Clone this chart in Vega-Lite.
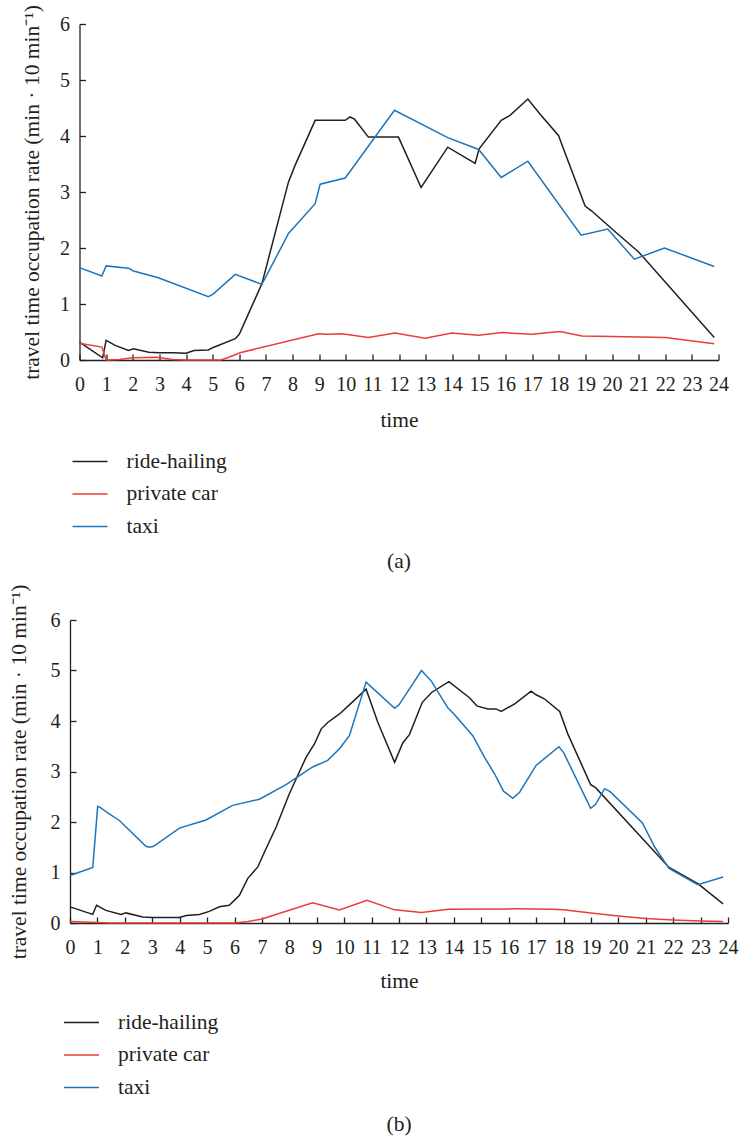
{
  "$schema": "https://vega.github.io/schema/vega-lite/v6.json",
  "background": "white",
  "padding": {"left": 8, "top": 4, "right": 2, "bottom": 0},
  "spacing": 11,
  "center": true,
  "resolve": {"scale": {"color": "independent"}, "legend": {"color": "independent"}},
  "config": {
    "font": "Liberation Serif",
    "view": {"stroke": null},
    "axis": {
      "grid": false,
      "domainColor": "#231f20",
      "domainWidth": 1.3,
      "tickColor": "#231f20",
      "tickWidth": 1.3,
      "tickSize": -6,
      "labelColor": "#231f20",
      "labelFont": "Liberation Serif",
      "labelFontSize": 20,
      "labelOverlap": false,
      "labelFlush": false,
      "labelBound": false,
      "titleColor": "#231f20",
      "titleFont": "Liberation Serif",
      "titleFontSize": 21.5,
      "titleFontWeight": "normal"
    },
    "legend": {
      "orient": "none",
      "direction": "vertical",
      "symbolType": "stroke",
      "symbolSize": 1225,
      "symbolStrokeWidth": 1.5,
      "labelFont": "Liberation Serif",
      "labelFontSize": 21.5,
      "labelColor": "#231f20",
      "labelOffset": 18,
      "rowPadding": 3.5,
      "title": null
    },
    "title": {
      "font": "Liberation Serif",
      "fontSize": 21.5,
      "fontWeight": "normal",
      "color": "#231f20",
      "orient": "bottom",
      "anchor": "middle"
    }
  },
  "vconcat": [
    {
      "width": 639,
      "height": 336,
      "title": {"text": "(a)", "offset": 14},
      "data": {
        "values": [
          {"t": 0, "v": 0.32, "s": "ride-hailing"},
          {"t": 0.87, "v": 0.04, "s": "ride-hailing"},
          {"t": 1.0, "v": 0.35, "s": "ride-hailing"},
          {"t": 1.34, "v": 0.26, "s": "ride-hailing"},
          {"t": 1.84, "v": 0.17, "s": "ride-hailing"},
          {"t": 2.03, "v": 0.2, "s": "ride-hailing"},
          {"t": 2.6, "v": 0.14, "s": "ride-hailing"},
          {"t": 3.0, "v": 0.13, "s": "ride-hailing"},
          {"t": 3.5, "v": 0.13, "s": "ride-hailing"},
          {"t": 4.0, "v": 0.12, "s": "ride-hailing"},
          {"t": 4.3, "v": 0.17, "s": "ride-hailing"},
          {"t": 4.84, "v": 0.18, "s": "ride-hailing"},
          {"t": 5.0, "v": 0.22, "s": "ride-hailing"},
          {"t": 5.85, "v": 0.38, "s": "ride-hailing"},
          {"t": 6.0, "v": 0.46, "s": "ride-hailing"},
          {"t": 6.85, "v": 1.36, "s": "ride-hailing"},
          {"t": 7.85, "v": 3.18, "s": "ride-hailing"},
          {"t": 8.1, "v": 3.48, "s": "ride-hailing"},
          {"t": 8.85, "v": 4.28, "s": "ride-hailing"},
          {"t": 9.98, "v": 4.28, "s": "ride-hailing"},
          {"t": 10.16, "v": 4.34, "s": "ride-hailing"},
          {"t": 10.33, "v": 4.3, "s": "ride-hailing"},
          {"t": 10.85, "v": 3.98, "s": "ride-hailing"},
          {"t": 11.98, "v": 3.98, "s": "ride-hailing"},
          {"t": 12.83, "v": 3.08, "s": "ride-hailing"},
          {"t": 13.83, "v": 3.8, "s": "ride-hailing"},
          {"t": 14.86, "v": 3.51, "s": "ride-hailing"},
          {"t": 15.01, "v": 3.77, "s": "ride-hailing"},
          {"t": 15.84, "v": 4.28, "s": "ride-hailing"},
          {"t": 16.17, "v": 4.37, "s": "ride-hailing"},
          {"t": 16.84, "v": 4.66, "s": "ride-hailing"},
          {"t": 17.3, "v": 4.39, "s": "ride-hailing"},
          {"t": 17.99, "v": 4.01, "s": "ride-hailing"},
          {"t": 18.24, "v": 3.69, "s": "ride-hailing"},
          {"t": 18.99, "v": 2.75, "s": "ride-hailing"},
          {"t": 19.24, "v": 2.66, "s": "ride-hailing"},
          {"t": 20.12, "v": 2.29, "s": "ride-hailing"},
          {"t": 21.0, "v": 1.93, "s": "ride-hailing"},
          {"t": 23.84, "v": 0.4, "s": "ride-hailing"},

          {"t": 0, "v": 0.3, "s": "private car"},
          {"t": 0.84, "v": 0.23, "s": "private car"},
          {"t": 1.0, "v": 0.0, "s": "private car"},
          {"t": 1.5, "v": 0.01, "s": "private car"},
          {"t": 2.0, "v": 0.04, "s": "private car"},
          {"t": 2.9, "v": 0.05, "s": "private car"},
          {"t": 3.5, "v": 0.01, "s": "private car"},
          {"t": 4.0, "v": 0.0, "s": "private car"},
          {"t": 5.3, "v": 0.0, "s": "private car"},
          {"t": 5.56, "v": 0.04, "s": "private car"},
          {"t": 6.03, "v": 0.13, "s": "private car"},
          {"t": 8.98, "v": 0.47, "s": "private car"},
          {"t": 9.3, "v": 0.46, "s": "private car"},
          {"t": 9.86, "v": 0.47, "s": "private car"},
          {"t": 10.85, "v": 0.4, "s": "private car"},
          {"t": 11.85, "v": 0.48, "s": "private car"},
          {"t": 12.98, "v": 0.39, "s": "private car"},
          {"t": 13.98, "v": 0.48, "s": "private car"},
          {"t": 14.99, "v": 0.44, "s": "private car"},
          {"t": 15.86, "v": 0.49, "s": "private car"},
          {"t": 16.99, "v": 0.46, "s": "private car"},
          {"t": 18.05, "v": 0.51, "s": "private car"},
          {"t": 18.87, "v": 0.43, "s": "private car"},
          {"t": 20.0, "v": 0.42, "s": "private car"},
          {"t": 21.0, "v": 0.41, "s": "private car"},
          {"t": 22.0, "v": 0.4, "s": "private car"},
          {"t": 23.84, "v": 0.29, "s": "private car"},

          {"t": 0, "v": 1.65, "s": "taxi"},
          {"t": 0.84, "v": 1.5, "s": "taxi"},
          {"t": 1.0, "v": 1.68, "s": "taxi"},
          {"t": 1.84, "v": 1.64, "s": "taxi"},
          {"t": 2.03, "v": 1.59, "s": "taxi"},
          {"t": 2.96, "v": 1.47, "s": "taxi"},
          {"t": 4.84, "v": 1.13, "s": "taxi"},
          {"t": 5.03, "v": 1.18, "s": "taxi"},
          {"t": 5.85, "v": 1.53, "s": "taxi"},
          {"t": 6.85, "v": 1.35, "s": "taxi"},
          {"t": 7.85, "v": 2.26, "s": "taxi"},
          {"t": 8.85, "v": 2.79, "s": "taxi"},
          {"t": 9.04, "v": 3.14, "s": "taxi"},
          {"t": 9.98, "v": 3.25, "s": "taxi"},
          {"t": 11.83, "v": 4.46, "s": "taxi"},
          {"t": 13.83, "v": 3.97, "s": "taxi"},
          {"t": 14.99, "v": 3.76, "s": "taxi"},
          {"t": 15.84, "v": 3.26, "s": "taxi"},
          {"t": 16.84, "v": 3.55, "s": "taxi"},
          {"t": 18.84, "v": 2.23, "s": "taxi"},
          {"t": 19.84, "v": 2.34, "s": "taxi"},
          {"t": 20.84, "v": 1.8, "s": "taxi"},
          {"t": 21.97, "v": 2.0, "s": "taxi"},
          {"t": 23.84, "v": 1.67, "s": "taxi"}
        ]
      },
      "mark": {"type": "line", "strokeWidth": 1.5},
      "encoding": {
        "x": {
          "field": "t",
          "type": "quantitative",
          "scale": {"domain": [0, 24], "nice": false},
          "axis": {
            "title": "time",
            "values": [0,1,2,3,4,5,6,7,8,9,10,11,12,13,14,15,16,17,18,19,20,21,22,23,24],
            "labelPadding": 20,
            "titlePadding": 15
          }
        },
        "y": {
          "field": "v",
          "type": "quantitative",
          "scale": {"domain": [0, 6], "nice": false},
          "axis": {
            "title": "travel time occupation rate (min · 10 min⁻¹)",
            "values": [0, 1, 2, 3, 4, 5, 6],
            "labelPadding": 16,
            "titlePadding": 16
          }
        },
        "color": {
          "field": "s",
          "type": "nominal",
          "scale": {
            "domain": ["ride-hailing", "private car", "taxi"],
            "range": ["#231f20", "#ee3b35", "#1c75bc"]
          },
          "legend": {"legendX": -8, "legendY": 419}
        }
      }
    },
    {
      "width": 658,
      "height": 303,
      "title": {"text": "(b)", "offset": 16},
      "data": {
        "values": [
          {"t": 0, "v": 0.32, "s": "ride-hailing"},
          {"t": 0.83, "v": 0.17, "s": "ride-hailing"},
          {"t": 0.97, "v": 0.35, "s": "ride-hailing"},
          {"t": 1.31, "v": 0.25, "s": "ride-hailing"},
          {"t": 1.86, "v": 0.17, "s": "ride-hailing"},
          {"t": 2.04, "v": 0.2, "s": "ride-hailing"},
          {"t": 2.65, "v": 0.12, "s": "ride-hailing"},
          {"t": 3.0, "v": 0.11, "s": "ride-hailing"},
          {"t": 3.99, "v": 0.11, "s": "ride-hailing"},
          {"t": 4.24, "v": 0.15, "s": "ride-hailing"},
          {"t": 4.72, "v": 0.17, "s": "ride-hailing"},
          {"t": 5.08, "v": 0.23, "s": "ride-hailing"},
          {"t": 5.45, "v": 0.32, "s": "ride-hailing"},
          {"t": 5.81, "v": 0.35, "s": "ride-hailing"},
          {"t": 6.18, "v": 0.55, "s": "ride-hailing"},
          {"t": 6.48, "v": 0.88, "s": "ride-hailing"},
          {"t": 6.85, "v": 1.11, "s": "ride-hailing"},
          {"t": 7.09, "v": 1.4, "s": "ride-hailing"},
          {"t": 7.52, "v": 1.9, "s": "ride-hailing"},
          {"t": 8.0, "v": 2.56, "s": "ride-hailing"},
          {"t": 8.61, "v": 3.28, "s": "ride-hailing"},
          {"t": 8.92, "v": 3.55, "s": "ride-hailing"},
          {"t": 9.16, "v": 3.84, "s": "ride-hailing"},
          {"t": 9.4, "v": 3.97, "s": "ride-hailing"},
          {"t": 9.83, "v": 4.14, "s": "ride-hailing"},
          {"t": 10.19, "v": 4.32, "s": "ride-hailing"},
          {"t": 10.8, "v": 4.63, "s": "ride-hailing"},
          {"t": 11.23, "v": 3.97, "s": "ride-hailing"},
          {"t": 11.84, "v": 3.18, "s": "ride-hailing"},
          {"t": 12.14, "v": 3.57, "s": "ride-hailing"},
          {"t": 12.38, "v": 3.73, "s": "ride-hailing"},
          {"t": 12.85, "v": 4.37, "s": "ride-hailing"},
          {"t": 13.2, "v": 4.57, "s": "ride-hailing"},
          {"t": 13.82, "v": 4.78, "s": "ride-hailing"},
          {"t": 14.57, "v": 4.46, "s": "ride-hailing"},
          {"t": 14.84, "v": 4.3, "s": "ride-hailing"},
          {"t": 15.24, "v": 4.24, "s": "ride-hailing"},
          {"t": 15.54, "v": 4.24, "s": "ride-hailing"},
          {"t": 15.73, "v": 4.19, "s": "ride-hailing"},
          {"t": 16.22, "v": 4.34, "s": "ride-hailing"},
          {"t": 16.82, "v": 4.59, "s": "ride-hailing"},
          {"t": 17.0, "v": 4.52, "s": "ride-hailing"},
          {"t": 17.3, "v": 4.44, "s": "ride-hailing"},
          {"t": 17.86, "v": 4.19, "s": "ride-hailing"},
          {"t": 18.16, "v": 3.74, "s": "ride-hailing"},
          {"t": 18.99, "v": 2.74, "s": "ride-hailing"},
          {"t": 19.17, "v": 2.68, "s": "ride-hailing"},
          {"t": 21.85, "v": 1.1, "s": "ride-hailing"},
          {"t": 22.9, "v": 0.78, "s": "ride-hailing"},
          {"t": 23.82, "v": 0.38, "s": "ride-hailing"},

          {"t": 0, "v": 0.03, "s": "private car"},
          {"t": 1.0, "v": 0.01, "s": "private car"},
          {"t": 1.5, "v": 0.0, "s": "private car"},
          {"t": 6.0, "v": 0.0, "s": "private car"},
          {"t": 6.5, "v": 0.03, "s": "private car"},
          {"t": 7.0, "v": 0.08, "s": "private car"},
          {"t": 8.85, "v": 0.4, "s": "private car"},
          {"t": 9.83, "v": 0.26, "s": "private car"},
          {"t": 10.83, "v": 0.45, "s": "private car"},
          {"t": 11.84, "v": 0.26, "s": "private car"},
          {"t": 12.82, "v": 0.21, "s": "private car"},
          {"t": 13.8, "v": 0.27, "s": "private car"},
          {"t": 16.2, "v": 0.28, "s": "private car"},
          {"t": 17.6, "v": 0.27, "s": "private car"},
          {"t": 18.0, "v": 0.26, "s": "private car"},
          {"t": 19.0, "v": 0.2, "s": "private car"},
          {"t": 20.0, "v": 0.14, "s": "private car"},
          {"t": 21.0, "v": 0.09, "s": "private car"},
          {"t": 22.0, "v": 0.06, "s": "private car"},
          {"t": 23.0, "v": 0.04, "s": "private car"},
          {"t": 23.82, "v": 0.03, "s": "private car"},

          {"t": 0, "v": 0.94, "s": "taxi"},
          {"t": 0.83, "v": 1.1, "s": "taxi"},
          {"t": 1.01, "v": 2.31, "s": "taxi"},
          {"t": 1.1, "v": 2.29, "s": "taxi"},
          {"t": 1.43, "v": 2.16, "s": "taxi"},
          {"t": 1.8, "v": 2.03, "s": "taxi"},
          {"t": 2.77, "v": 1.52, "s": "taxi"},
          {"t": 2.9, "v": 1.5, "s": "taxi"},
          {"t": 3.05, "v": 1.52, "s": "taxi"},
          {"t": 3.99, "v": 1.88, "s": "taxi"},
          {"t": 4.96, "v": 2.04, "s": "taxi"},
          {"t": 5.93, "v": 2.33, "s": "taxi"},
          {"t": 6.91, "v": 2.45, "s": "taxi"},
          {"t": 7.88, "v": 2.74, "s": "taxi"},
          {"t": 8.85, "v": 3.09, "s": "taxi"},
          {"t": 9.4, "v": 3.22, "s": "taxi"},
          {"t": 9.83, "v": 3.45, "s": "taxi"},
          {"t": 10.19, "v": 3.71, "s": "taxi"},
          {"t": 10.8, "v": 4.77, "s": "taxi"},
          {"t": 11.84, "v": 4.25, "s": "taxi"},
          {"t": 12.0, "v": 4.32, "s": "taxi"},
          {"t": 12.82, "v": 5.0, "s": "taxi"},
          {"t": 13.18, "v": 4.79, "s": "taxi"},
          {"t": 13.78, "v": 4.26, "s": "taxi"},
          {"t": 14.02, "v": 4.13, "s": "taxi"},
          {"t": 14.69, "v": 3.71, "s": "taxi"},
          {"t": 15.12, "v": 3.28, "s": "taxi"},
          {"t": 15.49, "v": 2.95, "s": "taxi"},
          {"t": 15.81, "v": 2.61, "s": "taxi"},
          {"t": 16.15, "v": 2.47, "s": "taxi"},
          {"t": 16.4, "v": 2.59, "s": "taxi"},
          {"t": 17.0, "v": 3.12, "s": "taxi"},
          {"t": 17.83, "v": 3.49, "s": "taxi"},
          {"t": 18.0, "v": 3.38, "s": "taxi"},
          {"t": 18.99, "v": 2.27, "s": "taxi"},
          {"t": 19.17, "v": 2.35, "s": "taxi"},
          {"t": 19.5, "v": 2.66, "s": "taxi"},
          {"t": 19.7, "v": 2.6, "s": "taxi"},
          {"t": 20.88, "v": 1.98, "s": "taxi"},
          {"t": 21.33, "v": 1.5, "s": "taxi"},
          {"t": 21.85, "v": 1.08, "s": "taxi"},
          {"t": 22.9, "v": 0.76, "s": "taxi"},
          {"t": 23.82, "v": 0.91, "s": "taxi"}
        ]
      },
      "mark": {"type": "line", "strokeWidth": 1.5},
      "encoding": {
        "x": {
          "field": "t",
          "type": "quantitative",
          "scale": {"domain": [0, 24], "nice": false},
          "axis": {
            "title": "time",
            "values": [0,1,2,3,4,5,6,7,8,9,10,11,12,13,14,15,16,17,18,19,20,21,22,23,24],
            "labelPadding": 20,
            "titlePadding": 13
          }
        },
        "y": {
          "field": "v",
          "type": "quantitative",
          "scale": {"domain": [0, 6], "nice": false},
          "axis": {
            "title": "travel time occupation rate (min · 10 min⁻¹)",
            "values": [0, 1, 2, 3, 4, 5, 6],
            "labelPadding": 16,
            "titlePadding": 20
          }
        },
        "color": {
          "field": "s",
          "type": "nominal",
          "scale": {
            "domain": ["ride-hailing", "private car", "taxi"],
            "range": ["#231f20", "#ee3b35", "#1c75bc"]
          },
          "legend": {"legendX": -7, "legendY": 384}
        }
      }
    }
  ]
}
